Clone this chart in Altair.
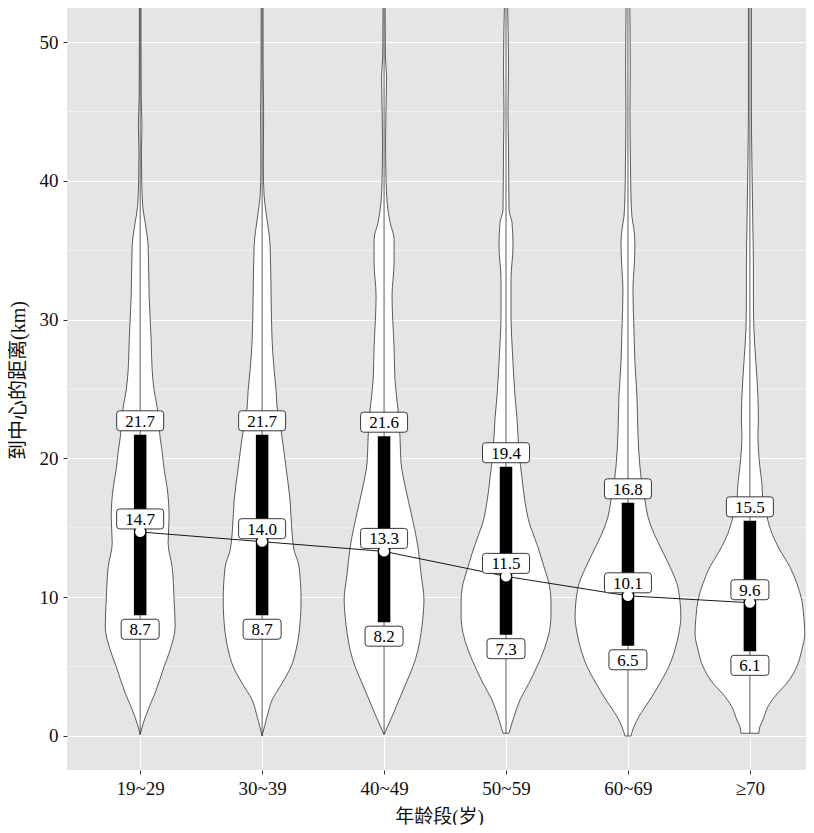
import json
import altair as alt
import pandas as pd

categories = ["19~29", "30~39", "40~49", "50~59", "60~69", "≥70"]
q1 = [8.7, 8.7, 8.2, 7.3, 6.5, 6.1]
medians = [14.7, 14.0, 13.3, 11.5, 10.1, 9.6]
q3 = [21.7, 21.7, 21.6, 19.4, 16.8, 15.5]

# violin profiles: distance (km) and relative density (half-width)
dist_1 = [0.1, 0.9, 1.9, 3.1, 5.0, 6.2, 7.9, 9.8, 12.2, 13.9, 15.8, 17.9, 19.2, 20.5, 21.5, 23.7, 24.9, 26.4, 28.5, 31.7, 35.3, 37.0, 38.2, 40.1, 42.0, 44.0, 46.0, 50.0, 53.0]
dens_1 = [0, 3, 8, 15, 24, 30, 35, 34, 32, 28, 29, 27, 24, 22, 20, 17, 14, 12, 11, 9, 8, 5, 2.5, 1.5, 1.2, 1.8, 1.0, 0.8, 0.8]

dist_2 = [0.0, 1.4, 2.6, 3.8, 5.0, 6.2, 7.4, 9.8, 12.2, 13.4, 14.6, 17.0, 19.3, 21.5, 23.7, 24.9, 26.4, 28.5, 31.7, 35.3, 37.7, 38.9, 41.0, 45.0, 48.0, 53.0]
dens_2 = [0, 5, 10, 20, 29, 34, 37, 39, 37, 32, 30, 28, 24, 20, 15, 14, 12, 10, 9, 8, 4, 2, 1.2, 1.5, 1.0, 0.9]

dist_3 = [0.1, 1.4, 2.6, 3.8, 5.0, 6.2, 7.4, 8.6, 9.8, 11.7, 13.6, 16.1, 17.7, 19.7, 21.5, 23.5, 25.6, 28.0, 31.7, 34.1, 35.8, 37.0, 38.5, 40.1, 43.0, 47.5, 49.0, 53.0]
dens_3 = [0, 8, 15, 22, 29, 34, 37, 39, 40, 37, 34, 27, 22, 17, 16, 14, 11, 10, 8, 10, 10, 6, 3, 2, 1.5, 2.5, 1.3, 1.0]

dist_4 = [0.2, 1.4, 2.6, 3.8, 5.0, 6.2, 7.4, 8.6, 9.8, 11.0, 12.2, 13.6, 14.6, 15.2, 16.9, 18.6, 20.5, 22.9, 24.5, 26.9, 30.5, 32.9, 35.3, 37.0, 37.9, 40.1, 42.5, 45.0, 48.0, 53.0]
dens_4 = [3, 8, 14, 23, 31, 38, 43, 45, 45, 43, 38, 32, 27, 24, 19, 16, 13, 11, 9, 7, 5, 5, 7, 6, 3, 2.7, 2.5, 2.0, 2.5, 1.5]

dist_5 = [0.0, 0.67, 1.4, 2.6, 3.8, 5.0, 6.2, 7.4, 8.6, 9.8, 11.0, 12.2, 13.4, 14.6, 15.8, 17.0, 18.2, 19.4, 21.8, 24.5, 26.9, 29.3, 32.2, 33.6, 35.3, 36.5, 37.4, 38.9, 41.3, 45.0, 48.0, 53.0]
dens_5 = [3, 6, 11, 22, 32, 41, 47, 51, 53, 52, 49, 42, 34, 26, 20, 17, 14, 12, 10, 9, 7, 6, 5, 6, 7, 6, 4, 3, 2.5, 2.0, 2.3, 1.8]

dist_6 = [0.2, 0.67, 1.15, 2.1, 3.1, 3.8, 5.0, 6.2, 7.4, 8.6, 9.8, 11.0, 12.2, 13.4, 14.6, 15.8, 17.0, 18.2, 19.4, 21.8, 22.6, 24.5, 26.9, 29.3, 31.7, 34.1, 36.5, 38.9, 41.3, 45.0, 53.0]
dens_6 = [9, 10, 13, 18, 28, 37, 47, 52, 55, 54, 52, 47, 40, 30, 22, 17, 13, 12, 10, 8, 8.5, 8, 6, 4, 3.5, 3.5, 3, 2.5, 2, 1.5, 1.5]

minor_ticks = [5, 15, 25, 35, 45]
major_ticks = [0, 10, 20, 30, 40, 50]

dists = [dist_1, dist_2, dist_3, dist_4, dist_5, dist_6]
denss = [dens_1, dens_2, dens_3, dens_4, dens_5, dens_6]
max_dens = max(max(d) for d in denss)
HALF = 0.45  # max half-width in category units

rows = []
for i, (ds, ws) in enumerate(zip(dists, denss)):
    pos = i + 1
    for d, w in zip(ds, ws):
        hw = w / max_dens * HALF
        rows.append({"group": categories[i], "pos": pos, "dist": d,
                     "left": pos - hw, "right": pos + hw})
violin_df = pd.DataFrame(rows)

stats_df = pd.DataFrame({
    "group": categories,
    "pos": list(range(1, len(categories) + 1)),
    "q1": q1, "med": medians, "q3": q3,
    "lo": [min(d) for d in dists],
    "hi": [max(d) for d in dists],
})

def label_df(col):
    vals = stats_df[col].tolist()
    txt = [f"{v:.1f}" for v in vals]
    return pd.DataFrame({"pos": stats_df["pos"], "value": vals, "label": txt,
                         "nchar": [str(len(t)) for t in txt]})

def rrect(w, h, r):
    a, b = w / 2, h / 2
    return (f"M{-a + r},{-b} L{a - r},{-b} Q{a},{-b} {a},{-b + r} "
            f"L{a},{b - r} Q{a},{b} {a - r},{b} L{-a + r},{b} "
            f"Q{-a},{b} {-a},{b - r} L{-a},{-b + r} Q{-a},{-b} {-a + r},{-b} Z")

box3 = rrect(38, 20, 3)
box4 = rrect(47, 20, 3)

SERIF = "Liberation Serif, Noto Sans CJK SC"

xscale = alt.Scale(domain=[0.4, 6.46], nice=False, zero=False)
yscale = alt.Scale(domain=[-2.45, 52.45], nice=False, zero=False)

label_expr = json.dumps(categories, ensure_ascii=False) + "[datum.value - 1]"

xaxis = alt.Axis(values=list(range(1, len(categories) + 1)), labelExpr=label_expr,
                 title="年龄段(岁)", grid=True, gridColor="white", gridWidth=1.1,
                 domain=False, tickSize=4, tickColor="#333333", tickWidth=1,
                 labelFont=SERIF, labelFontSize=19, labelColor="#111111", labelPadding=5,
                 titleFont=SERIF, titleFontSize=19, titleFontWeight="normal",
                 titleColor="#111111", titleX=372, titleY=46, titleBaseline="middle",
                 titleAlign="center")
yaxis = alt.Axis(values=major_ticks, format="d", title="到中心的距离(km)",
                 grid=True, gridColor="white", gridWidth=1.1, domain=False,
                 tickSize=4, tickColor="#333333", tickWidth=1,
                 labelFont=SERIF, labelFontSize=19, labelColor="#111111", labelPadding=5,
                 titleFont=SERIF, titleFontSize=20, titleFontWeight="normal",
                 titleColor="#111111", titleX=-49, titleY=372, titleAngle=270,
                 titleBaseline="middle", titleAlign="center")

X = lambda f: alt.X(f, scale=xscale, axis=xaxis)
Y = lambda f: alt.Y(f, scale=yscale, axis=yaxis)

minor = alt.Chart(pd.DataFrame({"v": minor_ticks})).mark_rule(
    color="white", strokeWidth=0.55).encode(y=Y("v:Q"))

violins = alt.Chart(violin_df).mark_area(
    orient="horizontal", fill="white", stroke="#333333", strokeWidth=0.8,
    interpolate="monotone", clip=True).encode(
    y=Y("dist:Q"), x=X("left:Q"), x2="right:Q",
    detail="group:N")

center = alt.Chart(stats_df).mark_rule(color="#333333", strokeWidth=0.8, clip=True).encode(
    x=X("pos:Q"), y=Y("lo:Q"), y2="hi:Q")

bars = alt.Chart(stats_df).mark_rule(color="black", strokeWidth=12.5, strokeCap="butt").encode(
    x=X("pos:Q"), y=Y("q1:Q"), y2="q3:Q")

med_line = alt.Chart(stats_df).mark_line(color="black", strokeWidth=0.9).encode(
    x=X("pos:Q"), y=Y("med:Q"))

def label_layers(col, off):
    df = label_df(col)
    box = alt.Chart(df).mark_point(filled=True, fill="white", stroke="#222222",
                                   strokeWidth=0.9, size=4, opacity=1,
                                   yOffset=off).encode(
        x=X("pos:Q"), y=Y("value:Q"),
        shape=alt.Shape("nchar:N", scale=alt.Scale(domain=["3", "4"], range=[box3, box4]),
                        legend=None))
    txt = alt.Chart(df).mark_text(font="Liberation Serif", fontSize=17, color="black",
                                  baseline="middle", align="center", yOffset=off + 1).encode(
        x=X("pos:Q"), y=Y("value:Q"), text="label:N")
    return [box, txt]

dots = alt.Chart(stats_df).mark_point(shape="circle", filled=True, fill="white",
                                      size=105, opacity=1).encode(
    x=X("pos:Q"), y=Y("med:Q"))

layers = [minor, violins, center, bars, med_line]
layers += label_layers("q3", -14)
layers += label_layers("med", -13)
layers += label_layers("q1", 14)
layers += [dots]

chart = alt.layer(*layers).properties(
    width=739, height=762,
    autosize=alt.AutoSizeParams(type="none"),
    padding={"left": 59, "top": 0, "right": 0, "bottom": 55},
).configure_view(fill="#E5E5E5", strokeWidth=0)

chart.save("out.html", embed_options={"renderer": "svg", "actions": False})
